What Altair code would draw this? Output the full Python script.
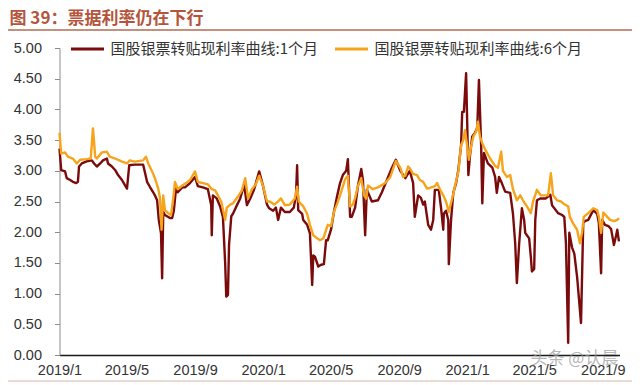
import altair as alt
import pandas as pd

TITLE = "图 39：票据利率仍在下行"
WATERMARK = "头条 @认晨"
SERIES = ["国股银票转贴现利率曲线:1个月", "国股银票转贴现利率曲线:6个月"]
COLORS = ["#7B0B0B", "#F5A41C"]
Y_TICKS = [0.0, 0.5, 1.0, 1.5, 2.0, 2.5, 3.0, 3.5, 4.0, 4.5, 5.0]
X_TICKS = [(2019, 1), (2019, 5), (2019, 9), (2020, 1), (2020, 5), (2020, 9), (2021, 1), (2021, 5), (2021, 9)]

dates_1m = [
    "2019-01-01", "2019-01-04", "2019-01-11", "2019-01-14", "2019-01-20", "2019-01-25", "2019-01-31",
    "2019-02-03", "2019-02-05", "2019-02-10", "2019-02-21", "2019-02-28", "2019-03-04", "2019-03-09",
    "2019-03-15", "2019-03-20", "2019-03-27", "2019-03-29", "2019-04-05", "2019-04-11", "2019-04-16",
    "2019-04-23", "2019-04-28", "2019-05-02", "2019-05-06", "2019-05-16", "2019-05-31", "2019-06-07",
    "2019-06-12", "2019-06-18", "2019-06-21", "2019-06-25", "2019-06-28", "2019-07-02", "2019-07-04",
    "2019-07-06", "2019-07-09", "2019-07-18", "2019-07-22", "2019-07-25", "2019-07-29", "2019-08-01",
    "2019-08-09", "2019-08-14", "2019-08-23", "2019-09-01", "2019-09-06", "2019-09-15", "2019-09-24",
    "2019-09-30", "2019-10-01", "2019-10-03", "2019-10-10", "2019-10-16", "2019-10-21", "2019-10-25",
    "2019-10-27", "2019-10-30", "2019-11-01", "2019-11-05", "2019-11-08", "2019-11-13", "2019-11-21",
    "2019-11-28", "2019-12-03", "2019-12-09", "2019-12-16", "2019-12-25", "2020-01-01", "2020-01-08",
    "2020-01-12", "2020-01-19", "2020-01-24", "2020-01-28", "2020-02-02", "2020-02-09", "2020-02-18",
    "2020-02-25", "2020-02-29", "2020-03-02", "2020-03-04", "2020-03-11", "2020-03-13", "2020-03-20",
    "2020-03-25", "2020-03-29", "2020-03-31", "2020-04-03", "2020-04-09", "2020-04-14", "2020-04-19",
    "2020-04-23", "2020-04-26", "2020-05-02", "2020-05-07", "2020-05-13", "2020-05-18", "2020-05-23",
    "2020-05-29", "2020-06-01", "2020-06-05", "2020-06-08", "2020-06-14", "2020-06-19", "2020-06-25",
    "2020-06-28", "2020-07-02", "2020-07-05", "2020-07-14", "2020-07-25", "2020-08-01", "2020-08-10",
    "2020-08-19", "2020-08-26", "2020-09-03", "2020-09-12", "2020-09-20", "2020-09-26", "2020-09-29",
    "2020-10-05", "2020-10-10", "2020-10-14", "2020-10-17", "2020-10-23", "2020-10-28", "2020-11-01",
    "2020-11-04", "2020-11-11", "2020-11-15", "2020-11-19", "2020-11-20", "2020-11-24", "2020-11-28",
    "2020-11-29", "2020-12-03", "2020-12-07", "2020-12-12", "2020-12-16", "2020-12-21", "2020-12-23",
    "2020-12-26", "2020-12-30", "2021-01-03", "2021-01-06", "2021-01-10", "2021-01-15", "2021-01-19",
    "2021-01-22", "2021-01-26", "2021-01-28", "2021-01-31", "2021-02-07", "2021-02-15", "2021-02-20",
    "2021-02-23", "2021-02-27", "2021-03-04", "2021-03-10", "2021-03-19", "2021-03-24", "2021-03-28",
    "2021-03-31", "2021-04-04", "2021-04-09", "2021-04-13", "2021-04-15", "2021-04-18", "2021-04-22",
    "2021-04-25", "2021-04-27", "2021-05-01", "2021-05-03", "2021-05-06", "2021-05-12", "2021-05-22",
    "2021-05-30", "2021-06-02", "2021-06-07", "2021-06-13", "2021-06-20", "2021-06-24", "2021-06-27",
    "2021-07-01", "2021-07-03", "2021-07-08", "2021-07-12", "2021-07-17", "2021-07-20", "2021-07-24",
    "2021-07-28", "2021-07-31", "2021-08-06", "2021-08-15", "2021-08-22", "2021-08-25", "2021-08-29",
    "2021-08-31", "2021-09-05", "2021-09-11", "2021-09-16", "2021-09-21", "2021-09-25", "2021-09-27",
    "2021-09-30",
]
rate_1m = [
    3.36, 3.01, 2.99, 2.88, 2.85, 2.82, 2.80,
    2.82, 3.07, 3.12, 3.16, 3.17, 3.12, 3.07,
    3.12, 3.17, 3.20, 3.12, 3.07, 3.01, 2.93,
    2.85, 2.77, 2.71, 3.09, 3.10, 3.10, 2.82,
    2.74, 2.65, 2.60, 2.52, 2.20, 1.98, 1.25,
    2.33, 2.28, 2.23, 2.23, 2.35, 2.72, 2.65,
    2.73, 2.73, 2.80, 2.90, 2.75, 2.73, 2.70,
    2.44, 1.95, 2.60, 2.55, 2.42, 2.25, 1.50,
    0.95, 0.98, 1.80, 2.26, 2.30, 2.40, 2.55,
    2.78, 2.44, 2.55, 2.70, 2.99, 2.75, 2.45,
    2.39, 2.35, 2.40, 2.20, 2.40, 2.33, 2.33,
    2.40, 2.60, 3.09, 2.36, 2.30, 2.20, 2.12,
    1.98, 1.14, 1.62, 1.60, 1.44, 1.47, 1.48,
    1.87, 1.87, 2.05, 2.33, 2.60, 2.80, 2.93,
    3.00, 3.19, 2.25, 2.25, 2.40, 2.75, 3.03,
    2.85, 1.95, 2.69, 2.50, 2.52, 2.65, 2.85,
    3.05, 3.18, 3.00, 2.88, 3.00, 2.80, 2.25,
    2.60, 2.56, 2.45, 2.50, 2.12, 2.04, 2.20,
    2.69, 2.69, 2.40, 2.04, 2.30, 2.35, 2.20,
    1.48, 2.20, 2.64, 2.80, 3.01, 3.42, 3.96,
    3.96, 4.59, 2.93, 3.25, 3.56, 3.62, 3.70,
    4.48, 3.40, 2.47, 3.29, 3.12, 3.05, 2.90,
    2.64, 2.90, 2.80, 2.66, 2.64, 2.30, 1.82,
    1.17, 1.80, 2.39, 2.20, 1.99, 1.95, 1.90,
    1.60, 1.36, 1.40, 2.20, 2.52, 2.55, 2.55,
    2.61, 2.44, 2.38, 2.31, 2.28, 2.25, 1.82,
    0.20, 1.99, 1.75, 1.65, 1.27, 0.95, 0.52,
    2.15, 2.18, 2.20, 2.36, 2.30, 2.15, 1.33,
    2.20, 2.12, 2.10, 2.05, 1.79, 1.95, 2.04,
    1.85,
]

dates_6m = [
    "2019-01-01", "2019-01-04", "2019-01-11", "2019-01-16", "2019-01-25", "2019-02-01", "2019-02-07",
    "2019-02-19", "2019-02-26", "2019-03-02", "2019-03-06", "2019-03-09", "2019-03-18", "2019-03-27",
    "2019-04-01", "2019-04-11", "2019-04-23", "2019-05-02", "2019-05-07", "2019-05-16", "2019-05-31",
    "2019-06-05", "2019-06-09", "2019-06-16", "2019-06-21", "2019-06-27", "2019-06-30", "2019-07-03",
    "2019-07-06", "2019-07-09", "2019-07-15", "2019-07-20", "2019-07-24", "2019-07-27", "2019-08-01",
    "2019-08-09", "2019-08-16", "2019-08-23", "2019-09-01", "2019-09-06", "2019-09-15", "2019-09-24",
    "2019-10-01", "2019-10-07", "2019-10-12", "2019-10-18", "2019-10-25", "2019-10-28", "2019-11-03",
    "2019-11-08", "2019-11-17", "2019-11-24", "2019-11-30", "2019-12-05", "2019-12-12", "2019-12-19",
    "2019-12-25", "2020-01-01", "2020-01-08", "2020-01-13", "2020-01-21", "2020-01-28", "2020-02-02",
    "2020-02-09", "2020-02-18", "2020-02-27", "2020-03-02", "2020-03-05", "2020-03-13", "2020-03-20",
    "2020-03-25", "2020-03-31", "2020-04-07", "2020-04-12", "2020-04-18", "2020-04-26", "2020-05-02",
    "2020-05-07", "2020-05-13", "2020-05-18", "2020-05-27", "2020-06-01", "2020-06-05", "2020-06-10",
    "2020-06-14", "2020-06-19", "2020-06-25", "2020-06-30", "2020-07-04", "2020-07-07", "2020-07-16",
    "2020-07-25", "2020-08-07", "2020-08-16", "2020-08-26", "2020-09-03", "2020-09-08", "2020-09-12",
    "2020-09-17", "2020-09-20", "2020-09-26", "2020-10-03", "2020-10-08", "2020-10-14", "2020-10-21",
    "2020-10-26", "2020-11-04", "2020-11-08", "2020-11-13", "2020-11-19", "2020-11-24", "2020-11-29",
    "2020-12-05", "2020-12-10", "2020-12-16", "2020-12-21", "2020-12-25", "2020-12-28", "2021-01-01",
    "2021-01-04", "2021-01-08", "2021-01-12", "2021-01-17", "2021-01-20", "2021-01-24", "2021-01-28",
    "2021-02-02", "2021-02-11", "2021-02-20", "2021-02-25", "2021-03-03", "2021-03-06", "2021-03-13",
    "2021-03-19", "2021-03-24", "2021-03-31", "2021-04-06", "2021-04-11", "2021-04-18", "2021-04-25",
    "2021-04-29", "2021-05-06", "2021-05-13", "2021-05-26", "2021-05-31", "2021-06-04", "2021-06-11",
    "2021-06-18", "2021-06-25", "2021-07-01", "2021-07-04", "2021-07-10", "2021-07-17", "2021-07-22",
    "2021-07-26", "2021-07-29", "2021-08-07", "2021-08-15", "2021-08-22", "2021-08-25", "2021-08-29",
    "2021-09-02", "2021-09-09", "2021-09-14", "2021-09-21", "2021-09-27", "2021-09-30",
]
rate_6m = [
    3.62, 3.28, 3.30, 3.23, 3.20, 3.12, 3.18,
    3.19, 3.20, 3.69, 3.23, 3.20, 3.30, 3.31,
    3.23, 3.20, 3.15, 3.12, 3.17, 3.15, 3.17,
    3.23, 3.12, 2.99, 2.88, 2.71, 2.57, 2.04,
    2.60, 2.36, 2.31, 2.28, 2.55, 2.82, 2.70,
    2.76, 2.80, 2.85, 2.99, 2.82, 2.80, 2.78,
    2.70, 2.68, 2.60, 2.50, 2.20, 2.40, 2.45,
    2.47, 2.58, 2.68, 2.88, 2.55, 2.70, 2.78,
    2.92, 2.75, 2.50, 2.50, 2.45, 2.50, 2.55,
    2.44, 2.45, 2.55, 2.74, 2.50, 2.42, 2.30,
    2.12, 1.95, 1.90, 1.87, 1.90, 2.12, 2.10,
    2.33, 2.47, 2.60, 2.86, 2.92, 2.42, 2.45,
    2.56, 2.75, 2.88, 2.60, 2.55, 2.76, 2.70,
    2.73, 2.80, 2.90, 3.16, 3.05, 2.90, 2.92,
    3.07, 3.04, 2.95, 2.93, 2.85, 2.82, 2.71,
    2.72, 2.75, 2.80, 2.70, 2.60, 2.50, 2.33,
    2.55, 2.75, 2.98, 3.42, 3.50, 3.66, 3.40,
    3.18, 3.40, 3.56, 3.64, 3.80, 3.55, 3.45,
    3.35, 3.20, 3.08, 3.05, 3.31, 3.00, 2.90,
    2.93, 2.70, 2.52, 2.60, 2.52, 2.42, 2.31,
    2.50, 2.69, 2.60, 2.60, 2.96, 2.60, 2.52,
    2.50, 2.45, 2.42, 2.25, 2.14, 2.04, 1.82,
    2.00, 2.25, 2.32, 2.39, 2.36, 2.25, 1.99,
    2.32, 2.25, 2.20, 2.18, 2.20, 2.23,
]

df_1m = pd.DataFrame({"date": dates_1m, "rate": rate_1m, "series": SERIES[0]})
df_6m = pd.DataFrame({"date": dates_6m, "rate": rate_6m, "series": SERIES[1]})

AXIS_FONT = "Liberation Sans"
CJK_FONT = "Noto Sans CJK SC"

x_enc = alt.X(
    "date:T",
    scale=alt.Scale(
        type="utc",
        domain=[alt.DateTime(year=2019, month=1, date=1, utc=True),
                alt.DateTime(year=2021, month=10, date=1, utc=True)],
        nice=False,
    ),
    axis=alt.Axis(
        values=[alt.DateTime(year=y, month=m, date=1, utc=True) for y, m in X_TICKS],
        labelExpr="utcFormat(datum.value, '%Y/%-m')",
        title=None, grid=False, ticks=False, tickSize=0,
        domainColor="#1a1a1a", domainWidth=1.5,
        labelFont=AXIS_FONT, labelFontSize=14.5, labelColor="#333333",
        labelPadding=8, labelOverlap=False, labelFlush=False,
    ),
)
y_enc = alt.Y(
    "rate:Q",
    scale=alt.Scale(domain=[0, 5], nice=False),
    axis=alt.Axis(
        values=Y_TICKS, format=".2f", title=None, grid=False,
        tickSize=5, tickColor="#8c8c8c", domainColor="#8c8c8c",
        labelFont=AXIS_FONT, labelFontSize=14.5, labelColor="#333333",
        labelPadding=13,
    ),
)
color_enc = alt.Color(
    "series:N",
    scale=alt.Scale(domain=SERIES, range=COLORS),
    legend=alt.Legend(
        orient="none", legendX=10, legendY=-17, direction="horizontal",
        title=None, symbolType="stroke", symbolSize=1089, symbolStrokeWidth=3,
        labelFont=CJK_FONT, labelFontSize=15, labelColor="#333333",
        labelOffset=5, columnPadding=10, padding=0, labelLimit=0,
    ),
)

line_1m = alt.Chart(df_1m).mark_line(strokeWidth=2.4, strokeJoin="round").encode(
    x=x_enc, y=y_enc, color=color_enc)
line_6m = alt.Chart(df_6m).mark_line(strokeWidth=2.4, strokeJoin="round").encode(
    x=x_enc, y=y_enc, color=color_enc)

title_layer = alt.Chart(pd.DataFrame({"t": [TITLE]})).mark_text(
    align="left", baseline="middle", fontSize=17, fontWeight="bold",
    font=CJK_FONT, color="#B4553B",
).encode(x=alt.value(-50), y=alt.value(-29), text="t:N")

title_rule = alt.Chart(pd.DataFrame({"k": [0]})).mark_rule(
    color="#C4917E", strokeWidth=2
).encode(x=alt.value(-52), x2=alt.value(573), y=alt.value(-18))

bottom_rule = alt.Chart(pd.DataFrame({"k": [0]})).mark_rule(
    color="#E3CFC6", strokeWidth=1.5
).encode(x=alt.value(-52), x2=alt.value(573), y=alt.value(333))

watermark = alt.Chart(pd.DataFrame({"t": [WATERMARK]})).mark_text(
    align="left", baseline="middle", fontSize=17, font=CJK_FONT,
    color="#9a9a9a", opacity=0.7,
).encode(x=alt.value(471), y=alt.value(311), text="t:N")

chart = alt.layer(
    title_rule, bottom_rule, title_layer, line_1m, line_6m, watermark
).properties(
    width=560, height=307,
    padding={"left": 51.5, "top": 40, "right": 12.5, "bottom": 28},
    autosize=alt.AutoSizeParams(type="none"),
).configure_view(stroke=None)

chart.save("out.html", embed_options={"renderer": "svg", "actions": False})
